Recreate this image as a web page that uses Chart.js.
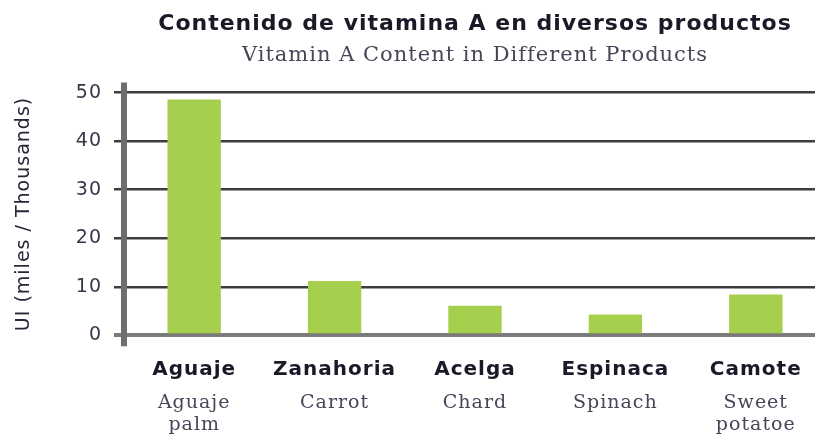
<!DOCTYPE html>
<html>
<head>
<meta charset="utf-8">
<script src="https://cdn.jsdelivr.net/npm/chart.js@4/dist/chart.umd.min.js"></script>
<style>
  html, body { margin: 0; padding: 0; background: #fff; overflow: hidden; }
  #wrap { position: relative; width: 828px; height: 436px; }
</style>
</head>
<body>
<div id="wrap"><canvas id="chart"></canvas></div>
<script>
// data
const categoriesEs = ["Aguaje", "Zanahoria", "Acelga", "Espinaca", "Camote"];
const categoriesEn = [["Aguaje", "palm"], "Carrot", "Chard", "Spinach", ["Sweet", "potatoe"]];
const vitaminA = [48.6, 11.2, 6.1, 4.3, 8.4];
const yTicks = [0, 10, 20, 30, 40, 50];

// the printed text is a bit wider than the system fonts
const letterSpacing = {
  id: "letterSpacing",
  beforeUpdate(chart) { chart.ctx.letterSpacing = "1px"; },
  beforeDraw(chart) { chart.ctx.letterSpacing = "1px"; }
};

// the vertical axis in the picture sticks out a bit above and below the plot
const axisLine = {
  id: "axisLine",
  afterDatasetsDraw(chart) {
    const { ctx, chartArea } = chart;
    ctx.save();
    ctx.strokeStyle = "#6e6e6e";
    ctx.lineWidth = 6;
    ctx.beginPath();
    ctx.moveTo(chartArea.left, chartArea.top - 10);
    ctx.lineTo(chartArea.left, chartArea.bottom + 11);
    ctx.stroke();
    ctx.restore();
  }
};

const ctx = document.getElementById("chart").getContext("2d");

new Chart(ctx, {
  type: "bar",
  data: {
    labels: categoriesEs,
    datasets: [{
      data: vitaminA,
      backgroundColor: "#a6cf4e",
      borderWidth: 0,
      barPercentage: 0.38,
      categoryPercentage: 1.0,
      xAxisID: "x"
    }]
  },
  options: {
    responsive: true,
    maintainAspectRatio: false,
    animation: false,
    layout: { padding: { left: 9, right: 2, top: 0, bottom: 0 } },
    plugins: {
      legend: { display: false },
      tooltip: { enabled: false },
      title: {
        display: true,
        fullSize: false,
        text: "Contenido de vitamina A en diversos productos",
        color: "#1c1828",
        font: { family: "DejaVu Sans", size: 22, weight: "bold" },
        padding: { top: 11, bottom: 6 }
      },
      subtitle: {
        display: true,
        fullSize: false,
        text: "Vitamin A Content in Different Products",
        color: "#4a4458",
        font: { family: "DejaVu Serif", size: 21 },
        padding: { top: 0, bottom: 24 }
      }
    },
    scales: {
      x: {
        position: "bottom",
        offset: true,
        // hidden tick marks, only used to push the labels down
        grid: { display: false, drawTicks: true, tickLength: 11 },
        border: { display: false },
        ticks: {
          color: "#1c1828",
          font: { family: "DejaVu Sans", size: 20, weight: "bold" },
          padding: 11,
          maxRotation: 0
        }
      },
      x2: {
        type: "category",
        labels: categoriesEn,
        position: "bottom",
        offset: true,
        grid: { display: false, drawTicks: false },
        border: { display: false },
        ticks: {
          color: "#4a4458",
          font: { family: "DejaVu Serif", size: 19, lineHeight: 1.15 },
          padding: 0,
          maxRotation: 0
        }
      },
      y: {
        min: 0,
        max: 50,
        afterBuildTicks(scale) {
          scale.ticks = yTicks.map(v => ({ value: v }));
        },
        border: { display: false },
        grid: {
          color: c => (c.tick && c.tick.value === 0) ? "#7a7a7a" : "#3c3c3c",
          lineWidth: c => (c.tick && c.tick.value === 0) ? 4 : 2.5,
          drawTicks: true,
          tickLength: 10
        },
        ticks: {
          color: "#3a3548",
          font: { family: "DejaVu Sans", size: 19 },
          padding: 12
        },
        title: {
          display: true,
          text: "UI (miles / Thousands)",
          color: "#2a2538",
          font: { family: "DejaVu Sans", size: 19 },
          padding: { top: 4, bottom: 28 }
        }
      }
    }
  },
  plugins: [letterSpacing, axisLine]
});
</script>
</body>
</html>
